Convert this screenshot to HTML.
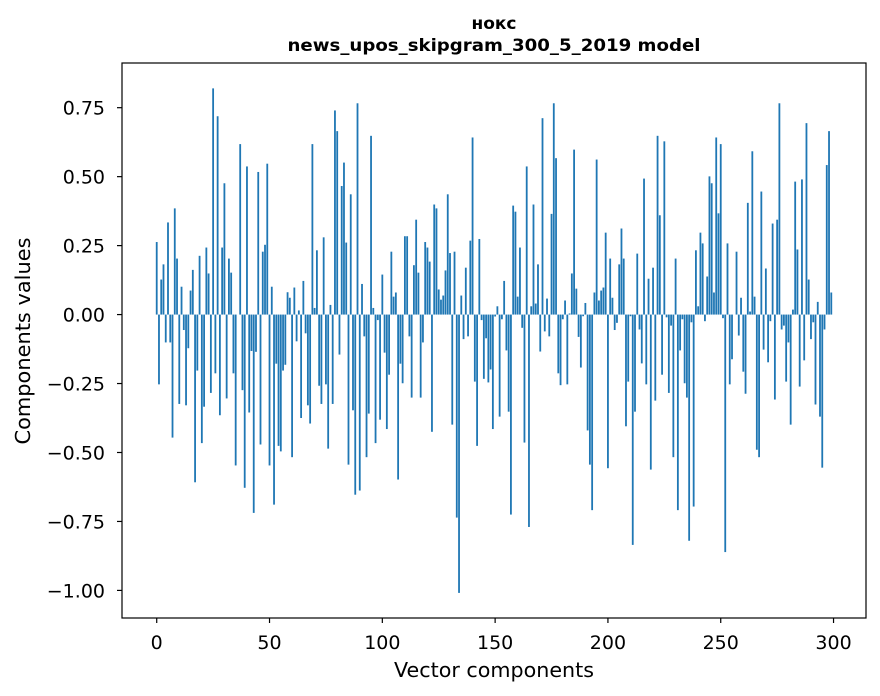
<!DOCTYPE html>
<html><head><meta charset="utf-8"><style>
html,body{margin:0;padding:0;background:#fff;}
svg{display:block;font-family:"DejaVu Sans","Liberation Sans",sans-serif;}
</style></head><body>
<svg id="chart" width="880" height="696" viewBox="0 0 880 696">
<rect x="0" y="0" width="880" height="696" fill="#fff"/>
<text x="494" y="29" text-anchor="middle" font-size="17" font-weight="bold">нокс</text>
<text x="494" y="51" text-anchor="middle" font-size="17" font-weight="bold" textLength="413" lengthAdjust="spacingAndGlyphs">news_upos_skipgram_300_5_2019 model</text>
<g id="bars"></g>
<g id="xticks"></g>
<g id="yticks"></g>
<rect x="122" y="63" width="744" height="555" fill="none" stroke="#000" stroke-width="1.2"/>
<text x="494" y="677" text-anchor="middle" font-size="20" textLength="200" lengthAdjust="spacingAndGlyphs">Vector components</text>
<text transform="translate(30,341) rotate(-90)" text-anchor="middle" font-size="20" textLength="207" lengthAdjust="spacingAndGlyphs">Components values</text>
</svg>
<script>
const componentValues = [
0.263,-0.253,0.127,0.182,-0.101,0.334,-0.101,-0.446,0.385,0.203,
-0.324,0.101,-0.056,-0.329,-0.122,0.087,0.162,-0.608,-0.203,0.213,
-0.466,-0.334,0.243,0.149,-0.284,0.82,-0.213,0.719,-0.365,0.243,
0.476,-0.304,0.203,0.152,-0.213,-0.547,0,0.618,-0.274,-0.628,
0.537,-0.355,-0.132,-0.719,-0.135,0.517,-0.471,0.228,0.253,0.547,
-0.547,0.101,-0.689,-0.178,-0.476,-0.496,-0.203,-0.182,0.081,0.061,
-0.517,0.098,-0.097,0.015,-0.375,0.122,-0.068,-0.329,-0.395,0.618,
0.024,0.233,-0.258,-0.324,0.28,-0.253,-0.486,0.035,-0.324,0.74,
0.665,-0.145,0.466,0.551,0.261,-0.544,0.436,-0.347,-0.653,0.766,
-0.638,0.111,-0.079,-0.517,-0.359,0.648,0.024,-0.466,-0.02,-0.381,
0.145,-0.138,-0.415,-0.218,0.228,0.065,0.08,-0.598,-0.178,-0.249,
0.284,0.284,-0.079,-0.301,0.179,0.344,0.152,-0.301,-0.101,0.263,
0.243,0.192,-0.425,0.399,0.385,0.091,0.054,0.069,0.16,0.436,
0.223,-0.399,0.228,-0.736,-1.009,0.069,-0.089,0.17,-0.079,0.268,
0.642,-0.243,-0.476,0.274,-0.02,-0.233,-0.086,-0.246,-0.199,-0.415,
-0.007,0.03,-0.37,-0.017,0.122,-0.13,-0.352,-0.725,0.395,0.373,
0.065,0.243,-0.048,-0.464,0.537,-0.77,0.03,0.399,0.04,0.182,
-0.134,0.712,-0.061,0.058,-0.079,0.365,0.766,0.567,-0.213,-0.256,
-0.017,0.051,-0.253,0.004,0.149,0.598,0.094,-0.081,-0.192,-0.006,
0.042,-0.42,-0.544,-0.709,0.08,0.562,0.051,0.087,0.098,0.297,
-0.557,0.203,0.061,-0.056,-0.03,0.182,0.312,0.203,-0.405,-0.243,
-0.006,-0.835,-0.352,0.221,-0.054,-0.177,0.493,-0.253,0.13,-0.562,
0.17,-0.312,0.648,0.36,-0.218,0.628,-0.01,-0.284,-0.04,-0.517,
0.203,-0.709,-0.13,-0.017,-0.249,-0.301,-0.82,-0.028,-0.696,0.233,
0.03,0.297,0.258,-0.024,0.138,0.501,0.476,0.08,0.642,0.367,
0.618,-0.013,-0.861,0.258,-0.253,-0.162,0,0.228,-0.076,0.061,
-0.207,-0.287,0.405,0.011,0.592,0.065,-0.49,-0.517,0.446,-0.127,
0.167,-0.173,-0.024,0.33,-0.308,0.344,0.766,-0.054,-0.04,-0.243,
-0.101,-0.399,0.018,0.482,0.236,-0.261,0.49,-0.166,0.694,0.127,
-0.089,-0.028,-0.326,0.046,-0.37,-0.555,-0.054,0.542,0.665,0.08
];
const xTickValues = [0,50,100,150,200,250,300];
const xTickLabels = ["0","50","100","150","200","250","300"];
const yTickValues = [0.75,0.5,0.25,0,-0.25,-0.5,-0.75,-1.0];
const yTickLabels = ["0.75","0.50","0.25","0.00","\u22120.25","\u22120.50","\u22120.75","\u22121.00"];

const NS = "http://www.w3.org/2000/svg";
const X0 = 122, X1 = 866, Y0 = 63, Y1 = 618;
const xMin = -15.39, xMax = 314.39, yMin = -1.1, yMax = 0.912;
function xScale(v){ return X0 + (v - xMin) / (xMax - xMin) * (X1 - X0); }
function yScale(v){ return Y1 - (v - yMin) / (yMax - yMin) * (Y1 - Y0); }

const barsG = document.getElementById('bars');
const bw = xScale(0.8) - xScale(0);
componentValues.forEach(function(v, i){
  const r = document.createElementNS(NS, 'rect');
  const y = Math.min(yScale(v), yScale(0));
  const h = Math.abs(yScale(v) - yScale(0));
  r.setAttribute('x', xScale(i) - bw / 2);
  r.setAttribute('y', y);
  r.setAttribute('width', bw);
  r.setAttribute('height', h);
  r.setAttribute('fill', '#1f77b4');
  
  
  barsG.appendChild(r);
});

const xg = document.getElementById('xticks');
xTickValues.forEach(function(v, i){
  const x = xScale(v);
  const l = document.createElementNS(NS, 'line');
  l.setAttribute('x1', x); l.setAttribute('x2', x);
  l.setAttribute('y1', Y1); l.setAttribute('y2', Y1 + 5);
  l.setAttribute('stroke', '#000'); l.setAttribute('stroke-width', '1.2');
  
  
  xg.appendChild(l);
  const t = document.createElementNS(NS, 'text');
  t.setAttribute('x', x); t.setAttribute('y', 649);
  t.setAttribute('text-anchor', 'middle'); t.setAttribute('font-size', '19');
  t.textContent = xTickLabels[i];
  
  
  xg.appendChild(t);
});

const yg = document.getElementById('yticks');
yTickValues.forEach(function(v, i){
  const y = yScale(v);
  const l = document.createElementNS(NS, 'line');
  l.setAttribute('x1', X0 - 5); l.setAttribute('x2', X0);
  l.setAttribute('y1', y); l.setAttribute('y2', y);
  l.setAttribute('stroke', '#000'); l.setAttribute('stroke-width', '1.2');
  
  
  yg.appendChild(l);
  const t = document.createElementNS(NS, 'text');
  t.setAttribute('x', 105); t.setAttribute('y', y + 7);
  t.setAttribute('text-anchor', 'end'); t.setAttribute('font-size', '19');
  t.textContent = yTickLabels[i];
  
  
  yg.appendChild(t);
});
</script>
</body></html>
